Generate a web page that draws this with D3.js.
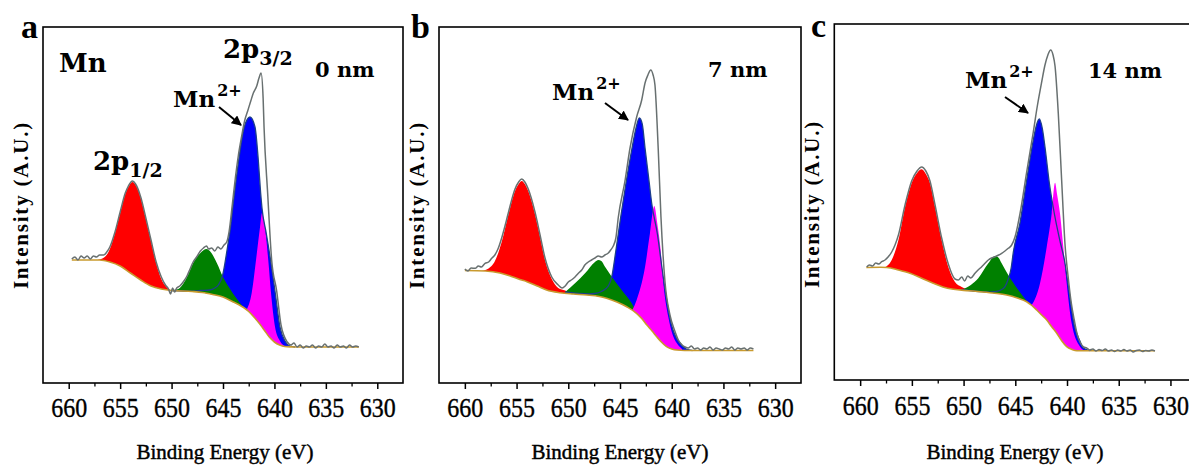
<!DOCTYPE html>
<html><head><meta charset="utf-8">
<script src="https://cdn.jsdelivr.net/npm/d3@7"></script>
<style>body{margin:0;background:#fff}svg{display:block}</style>
</head><body>
<svg id="chart" width="1189" height="466"></svg>
<script>
// ---------- data ----------
const energyTicks = [660, 655, 650, 645, 640, 635, 630];
const minorTicks = [657.5, 652.5, 647.5, 642.5, 637.5, 632.5];
const panelLetters = ["a", "b", "c"];
const thicknessLabels = ["0 nm", "7 nm", "14 nm"];
const xTitle = "Binding Energy (eV)";
const yTitle = "Intensity (A.U.)";

// panel a (0 nm): [binding energy eV, intensity a.u.]
const bgA = [[659.7,123],[657,123],[656,121],[655,117],[654,110],[653,103],[652,97],[651,94],[650,92.5],[648,91.5],[647,90.5],[646,88.5],[645,86],[644,81],[643.5,78.5],[643,75.5],[642.5,71.5],[642,66],[641.5,60],[641,53],[640.5,46],[640,41],[639.5,38],[639,36.5],[638,36],[631.8,36]];
const redA = [[657.2,123],[656.5,126],[656,134],[655.5,150],[655,170],[654.5,189],[654.2,196],[653.8,201],[653.5,198],[653,185],[652.5,164],[652,142],[651.5,120],[651,104],[650.5,96],[650,92.5],[649.5,92]];
const greenA = [[650.2,92.5],[649.5,93.5],[649.2,95],[648.5,106],[647.9,120],[647.2,130],[646.6,134],[646.2,131],[645.6,120],[645,106],[644.5,97],[644,89],[643.5,82],[643,75.5]];
const blueA = [[650,92.5],[648,91.8],[647.2,92.5],[646.3,93],[645.8,95],[645.45,98],[645.03,108],[644.81,120],[644.5,140],[644.32,152],[643.93,186],[643.51,220],[642.96,255],[642.38,266],[641.89,256],[641.57,223],[641.34,190],[641.21,175],[640.8,150],[640.36,122],[639.92,90],[639.46,56],[638.97,42],[638.5,37],[638,36]];
const magentaA = [[642.7,73],[642.21,90],[641.79,123],[641.4,156],[641.21,170],[640.92,156],[640.6,123],[640.33,90],[639.94,56],[639.46,42],[639,37]];
const rawA = [[659.7,124],[659.4,126],[659.1,123],[658.8,127],[658.5,125],[658.2,127],[657.9,124],[657.6,127],[657.3,126],[657,128],[656.6,128],[656.3,131],[656,136],[655.5,151],[655,171],[654.5,190],[654.2,197],[653.8,202],[653.5,199],[653,186],[652.5,165],[652,143],[651.5,121],[651,106],[650.6,98],[650.3,94],[650.1,89],[649.9,95],[649.7,91],[649.5,95],[649.2,97],[648.8,102],[648.5,107],[648.2,114],[647.9,121],[647.5,127],[647.2,132],[646.9,135],[646.6,137],[646.4,134],[646.1,135],[645.8,132],[645.5,136],[645.2,134],[644.9,138],[644.64,141],[644.4,152],[644.1,178],[643.8,205],[643.5,228],[643.2,246],[642.9,262],[642.6,272],[642.3,282],[642.05,290],[641.72,297],[641.5,305],[641.3,310],[641.1,285],[641.01,256],[640.66,190],[640.27,123],[639.78,92],[639.36,58],[638.75,41],[638.4,38],[638.1,40],[637.8,36],[637.5,38],[637.2,35],[636.9,37],[636.6,36],[636.3,38],[636,35],[635.7,37],[635.4,36],[635.1,39],[634.8,36],[634.5,37],[634.2,35],[633.9,38],[633.6,36],[633.3,37],[633,35],[632.7,38],[632.4,36],[632.1,37],[631.8,36]];

// panel b (7 nm)
const bgB = [[660,112.5],[658,112],[656.6,110],[655.5,106.5],[654.5,103],[654,101.3],[653,97],[652.1,93],[650.8,90.3],[649.5,89],[648.2,88],[647,86.5],[646.3,84.7],[645.3,81],[644.35,76.3],[643.4,69.7],[642.9,64.5],[642.4,58],[641.9,52],[641.45,46.3],[641,41],[640.5,36.3],[640,34],[639.5,33],[638,32.5],[632.1,32.5]];
const redB = [[658.4,112],[657.8,114],[657.09,122],[656.44,141],[655.8,168],[655.15,192],[654.8,199],[654.5,202],[654.2,199],[653.87,192],[653.22,169],[652.73,146],[652.25,123],[651.6,104],[650.97,95],[650.3,92.5],[649.8,90]];
const greenB = [[650.3,91],[649.35,99.7],[648.38,109.7],[647.42,121],[647.1,123],[646.8,122],[646.45,116.3],[645.8,106.3],[644.84,93],[643.87,79.7],[643.4,70.5]];
const blueB = [[650.3,91],[649,89.5],[648,89],[647.4,89.5],[646.8,91.5],[646.13,97],[645.8,106],[645.39,133],[644.93,166],[644.42,200],[643.87,233],[643.45,255],[643.13,265],[642.85,259],[642.58,235],[642.17,200],[641.94,180],[641.4,150],[640.9,112],[640.5,84],[640.07,60],[639.6,46],[639.2,40],[638.6,34],[638,32.5]];
const magentaB = [[643.8,73],[643.39,83],[642.58,116],[642.1,150],[641.68,177],[641.4,160],[641.07,133],[640.81,100],[640.33,66],[639.9,48],[639.52,40],[639,34]];
const rawB = [[660,114],[659.7,112],[659.4,115],[659,114.7],[658.7,117],[658.4,116],[658.05,119.7],[657.7,121],[657.4,124.7],[657.1,128],[656.77,134.7],[656.44,145],[656.12,157],[655.8,170],[655.15,194],[654.8,201],[654.5,204],[654.2,201],[653.87,194],[653.22,171],[652.73,148],[652.25,125],[651.6,106],[650.97,98],[650.6,95],[650.3,97],[650,101],[649.7,103],[649.35,106],[649,110],[648.7,113],[648.4,118],[648.07,121],[647.75,123],[647.42,125],[647.1,127],[646.77,126],[646.45,128],[646.13,130],[645.9,133],[645.65,137],[645.4,145],[645.16,166],[644.52,202],[644.03,235],[643.39,266],[642.9,283],[642.58,300],[642.3,308],[642.03,313],[641.8,308],[641.62,298],[641.3,233],[641.04,166],[640.65,101],[640.17,68],[639.7,52],[639.36,43],[639,38],[638.7,36],[638.4,35],[638.1,37],[637.8,34],[637.5,35],[637.2,33],[636.9,35],[636.6,34],[636.3,36],[636,33],[635.7,35],[635.4,34],[635.1,33],[634.8,35],[634.5,34],[634.2,36],[633.9,33],[633.6,35],[633.3,34],[633,35],[632.7,33],[632.4,35],[632.1,34]];

// panel c (14 nm)
const bgC = [[659.4,112.5],[658,112.7],[657.43,112.5],[656.3,110],[655.18,106.7],[654,101.5],[652.93,96.7],[652,93],[650.99,90.7],[649.5,89.3],[648.41,88.3],[647,86.8],[645.83,85],[644.8,82],[643.9,78.3],[643.4,74.5],[642.93,70],[642.45,65],[641.96,60],[641.5,53.5],[640.99,46.7],[640.5,39],[640.03,33.3],[639.5,30.5],[639.06,29.3],[638,29.3],[631.5,29.3]];
const redC = [[657.6,112.8],[656.95,120],[656.3,140],[655.66,173],[655.02,197],[654.5,207],[654.05,210.7],[653.65,206],[653.25,197],[652.76,173],[652.12,140],[651.48,113],[650.83,98],[650.18,93],[649.7,90.5]];
const greenC = [[650.2,90.5],[649.3,95],[648.58,101.7],[647.61,116.7],[646.96,124],[646.6,122],[646.32,116.7],[645.68,105],[644.71,90],[643.74,77]];
const blueC = [[650.2,90.5],[648.5,88.5],[647.5,87.8],[646.96,88.3],[646.4,90],[646,93.3],[645.68,101],[645.4,112],[645.19,128],[644.55,157],[643.9,200],[643.26,240],[642.95,255],[642.68,261],[642.4,252],[642.13,233],[641.71,197],[641.2,165],[640.7,140],[640.2,117],[639.9,96],[639.3,55],[638.8,40],[638.4,32],[637.8,29.5]];
const magentaC = [[643.5,74],[643.42,75],[642.61,96.7],[641.96,133.3],[641.48,166.7],[641.16,197.3],[640.95,185],[640.68,166.7],[640.36,133.3],[640.03,96.7],[639.55,56.7],[638.74,33.3],[638.3,29.5]];
const rawC = [[659.37,113],[659.1,115],[658.8,114],[658.5,117],[658.2,116],[657.92,118.3],[657.6,120],[657.28,123.3],[656.95,128],[656.63,135],[656.3,145],[655.66,175],[655.02,199],[654.5,209],[654.05,213],[653.65,209],[653.25,199],[652.76,175],[652.12,142],[651.48,116],[650.83,101],[650.5,100],[650.18,103],[649.9,99],[649.6,104],[649.3,102],[648.9,106.7],[648.6,110],[648.25,113.3],[647.9,117],[647.61,120],[647.3,122],[646.96,123.3],[646.6,125],[646.32,126.7],[646,129],[645.68,131.7],[645.35,135],[645.03,143],[644.55,166],[643.9,208],[643.26,248],[642.87,274],[642.45,298],[642.13,315],[641.85,325],[641.58,330],[641.35,325],[641.16,314],[640.84,266],[640.52,200],[640.19,135],[639.9,104],[639.6,78],[639.3,60],[639,45],[638.7,37],[638.4,33],[638.1,32],[637.8,30],[637.5,31],[637.2,29],[636.9,30.5],[636.6,29.5],[636.3,31],[636,29],[635.7,30],[635.4,28.5],[635.1,30],[634.8,29],[634.5,30.5],[634.2,29],[633.9,30],[633.6,28],[633.3,29.5],[633,30],[632.7,28.5],[632.4,29.5],[632.1,29],[631.8,30],[631.5,29]];

const seriesByPanel = [
  {bg: bgA, red: redA, green: greenA, blue: blueA, magenta: magentaA, raw: rawA},
  {bg: bgB, red: redB, green: greenB, blue: blueB, magenta: magentaB, raw: rawB},
  {bg: bgC, red: redC, green: greenC, blue: blueC, magenta: magentaC, raw: rawC}
];

// ---------- layout ----------
const layouts = [
  {x0: 43,    x1: 403,   y0: 27, y1: 383, letterX: 21,  letterY: 38, yLabX: 28,  yLabY: 205, xLabX: 225,  tickBase: 34,
   notes: [{kind:"Mn", x:59, y:72}, {kind:"p32", x:223, y:58}, {kind:"p12", x:93, y:170}], nm: {x:315, y:77},
   ion: {x:173, y:107, size:23}, arrow: [219,107,241,125]},
  {x0: 439,   x1: 801,   y0: 27, y1: 383, letterX: 411, letterY: 38, yLabX: 424, yLabY: 205, xLabX: 620,  tickBase: 34,
   notes: [], nm: {x:708, y:77}, ion: {x:552, y:100, size:23}, arrow: [605,103,628,120]},
  {x0: 834.3, x1: 1196.3, y0: 24, y1: 380, letterX: 811, letterY: 37, yLabX: 819, yLabY: 204, xLabX: 1015, tickBase: 35,
   notes: [], nm: {x:1088, y:78}, ion: {x:965, y:88, size:23}, arrow: [1005,97,1028,113]}
];

const svg = d3.select("#chart");
const defs = svg.append("defs");
defs.append("marker").attr("id","arrowHead").attr("viewBox","0 0 10 10")
  .attr("refX",9).attr("refY",5).attr("markerWidth",5).attr("markerHeight",5)
  .attr("orient","auto").attr("markerUnits","strokeWidth")
  .append("path").attr("d","M0,0 L10,5 L0,10 z").attr("fill","#000");

const serifFont = "'Liberation Serif'";
const annFont = "'DejaVu Serif'";

layouts.forEach((L, i) => {
  const S = seriesByPanel[i];
  const x = d3.scaleLinear().domain([662.5, 627.5]).range([L.x0, L.x1]);
  const y = d3.scaleLinear().domain([0, 356]).range([L.y1, L.y0]);
  const g = svg.append("g");

  // region above the background, used to clip peak fills
  const clipId = "above" + i;
  defs.append("clipPath").attr("id", clipId).append("path")
    .attr("d", d3.area().x(d => x(d[0])).y0(L.y0).y1(d => y(d[1])).curve(d3.curveMonotoneX)(S.bg));

  const fillArea = d3.area().x(d => x(d[0])).y0(L.y1).y1(d => y(d[1])).curve(d3.curveMonotoneX);
  const line = d3.line().x(d => x(d[0])).y(d => y(d[1])).curve(d3.curveMonotoneX);

  const fills = g.append("g").attr("clip-path", `url(#${clipId})`);
  [["red","#ff0000"],["blue","#0000ff"],["green","#008000"],["magenta","#ff00ff"]].forEach(([k,c]) => {
    fills.append("path").attr("d", fillArea(S[k])).attr("fill", c);
  });
  g.append("path").attr("d", line(S.blue)).attr("fill","none").attr("stroke","#1c3f8c").attr("stroke-width",1.3);
  g.append("path").attr("d", line(S.bg)).attr("fill","none").attr("stroke","#c99a2e").attr("stroke-width",1.6);
  g.append("path").attr("d", line(S.raw)).attr("fill","none").attr("stroke","#687070").attr("stroke-width",1.5);

  // frame
  g.append("rect").attr("x", L.x0).attr("y", L.y0).attr("width", L.x1 - L.x0).attr("height", L.y1 - L.y0)
    .attr("fill","none").attr("stroke","#000").attr("stroke-width",1.6);

  // axes
  const ax = g.append("g").attr("transform", `translate(0,${L.y1})`)
    .call(d3.axisBottom(x).tickValues(energyTicks).tickSize(6).tickFormat(d3.format("d")));
  ax.select(".domain").remove();
  ax.selectAll("line").attr("stroke","#000").attr("stroke-width",1.5);
  ax.selectAll("text").attr("y",0).attr("dy",0)
    .attr("transform", `translate(0,${L.tickBase}) scale(1,1.12)`)
    .attr("font-family", serifFont).attr("font-size", 24).attr("fill","#000")
    .attr("stroke","#000").attr("stroke-width",0.35);
  const mx = g.append("g").attr("transform", `translate(0,${L.y1})`)
    .call(d3.axisBottom(x).tickValues(minorTicks).tickSize(3.5).tickFormat(""));
  mx.select(".domain").remove();
  mx.selectAll("line").attr("stroke","#000").attr("stroke-width",1.3);

  // titles
  g.append("text").attr("x", L.xLabX).attr("y", 459).attr("text-anchor","middle")
    .attr("font-family", serifFont).attr("font-size", 21).attr("stroke","#000").attr("stroke-width",0.45)
    .text(xTitle);
  g.append("text").attr("transform", `translate(${L.yLabX},${L.yLabY}) rotate(-90)`).attr("text-anchor","middle")
    .attr("font-family", serifFont).attr("font-weight","bold").attr("font-size", 21).attr("letter-spacing", 1.8)
    .text(yTitle);
  g.append("text").attr("x", L.letterX).attr("y", L.letterY)
    .attr("font-family", serifFont).attr("font-weight","bold").attr("font-size", 34).text(panelLetters[i]);

  // annotations
  g.append("text").attr("x", L.nm.x).attr("y", L.nm.y).attr("font-family", annFont).attr("font-weight","bold")
    .attr("font-size", 21).text(thicknessLabels[i]);
  const ion = g.append("text").attr("x", L.ion.x).attr("y", L.ion.y).attr("font-family", annFont)
    .attr("font-weight","bold").attr("font-size", L.ion.size);
  ion.append("tspan").text("Mn");
  ion.append("tspan").attr("dy", -11).attr("font-size", 16).attr("dx", 2).text("2+");
  g.append("line").attr("x1", L.arrow[0]).attr("y1", L.arrow[1]).attr("x2", L.arrow[2]).attr("y2", L.arrow[3])
    .attr("stroke","#000").attr("stroke-width",2).attr("marker-end","url(#arrowHead)");

  L.notes.forEach(n => {
    const t = g.append("text").attr("x", n.x).attr("y", n.y).attr("font-family", annFont).attr("font-weight","bold");
    if (n.kind === "Mn") { t.attr("font-size", 26).text("Mn"); }
    else {
      t.attr("font-size", 26);
      t.append("tspan").text("2p");
      t.append("tspan").attr("font-size", 19).attr("dy", 7).text(n.kind === "p32" ? "3/2" : "1/2");
    }
  });
});
</script>
</body></html>
